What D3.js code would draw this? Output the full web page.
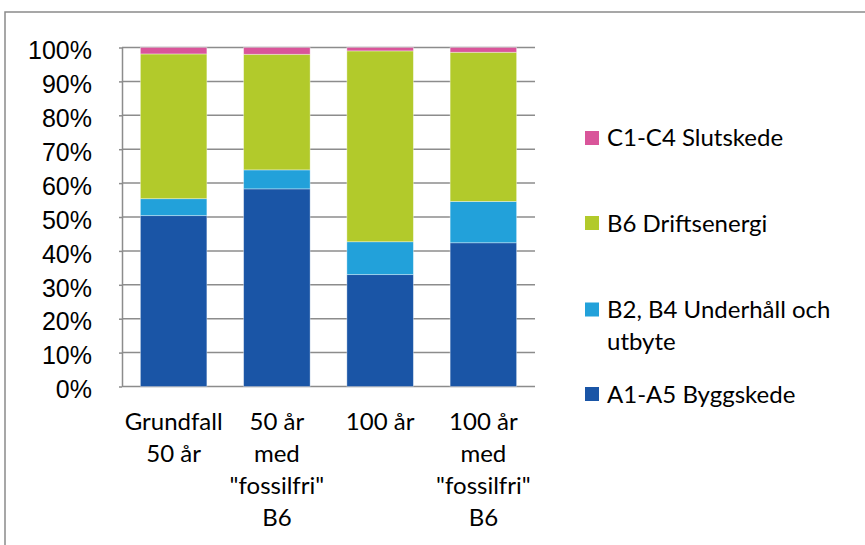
<!DOCTYPE html>
<html><head><meta charset="utf-8">
<script src="https://cdn.jsdelivr.net/npm/d3@7"></script>
<style>html,body{margin:0;padding:0;background:#fff;}svg{display:block;}</style>
</head><body>
<svg id="chart" width="865" height="545"></svg>
<script>
// Data
const categories = ["Grundfall\n50 år", "50 år\nmed\n\"fossilfri\"\nB6", "100 år", "100 år\nmed\n\"fossilfri\"\nB6"];
const seriesNames = ["A1-A5 Byggskede", "B2, B4 Underhåll och utbyte", "B6 Driftsenergi", "C1-C4 Slutskede"];
const a1a5 = [50.4, 58.3, 33.0, 42.4];
const b2b4 = [5.0, 5.6, 9.7, 12.2];
const b6 = [42.7, 34.1, 56.3, 44.0];
const c1c4 = [1.9, 2.0, 1.0, 1.4];
const yTicks = [0, 10, 20, 30, 40, 50, 60, 70, 80, 90, 100];
const colors = ["#1a55a6", "#22a1da", "#b2ca2b", "#d9559a"];

const svg = d3.select("#chart");
const mLeft = 122, mRight = 535, mTop = 47.5, mBottom = 386.5;

// outer frame
svg.append("rect").attr("x", 5).attr("y", 12).attr("width", 900).attr("height", 600)
  .attr("fill", "none").attr("stroke", "#8a8a8a").attr("stroke-width", 1.5);

const rows = categories.map((c, i) => ({
  cat: c, a: a1a5[i], b: b2b4[i], c6: b6[i], d: c1c4[i]
}));
const keys = ["a", "b", "c6", "d"];
const stacked = d3.stack().keys(keys).offset(d3.stackOffsetExpand)(rows);

const x = d3.scaleBand().domain(categories).range([mLeft, mRight]).paddingInner(0.356).paddingOuter(0.178);
const y = d3.scaleLinear().domain([0, 1]).range([mBottom, mTop]);

// gridlines
svg.append("g").selectAll("line").data(yTicks).join("line")
  .attr("x1", mLeft).attr("x2", mRight)
  .attr("y1", d => y(d / 100)).attr("y2", d => y(d / 100))
  .attr("stroke", "#8c8c8c").attr("stroke-width", 1.5);

// y axis
const yAxis = d3.axisLeft(y).tickValues(yTicks.map(d => d / 100)).tickFormat(d => Math.round(d * 100) + "%").tickSize(3).tickSizeOuter(0);
const ga = svg.append("g").attr("transform", `translate(${mLeft},0)`).call(yAxis);
ga.select(".domain").attr("stroke", "#8c8c8c").attr("stroke-width", 1.5);
ga.selectAll(".tick line").attr("stroke", "#8c8c8c").attr("stroke-width", 1.5);
ga.selectAll(".tick text").attr("font-family", "'Liberation Sans', Arial, sans-serif")
  .attr("font-size", 25).attr("fill", "#000").attr("x", -30).attr("dy", "0.45em");

// bars
svg.append("g").selectAll("g").data(stacked).join("g")
  .attr("fill", (d, i) => colors[i])
  .selectAll("rect").data(d => d).join("rect")
  .attr("x", d => x(d.data.cat))
  .attr("width", x.bandwidth())
  .attr("y", d => y(d[1]))
  .attr("height", d => y(d[0]) - y(d[1]))
  .attr("stroke", "rgba(255,255,255,0.45)").attr("stroke-width", 0.8);

// x labels
const xl = svg.append("g").attr("font-family", "Lato, 'Open Sans', sans-serif").attr("font-size", 24).attr("fill", "#000");
categories.forEach(c => {
  const t = xl.append("text").attr("text-anchor", "middle");
  c.split("\n").forEach((line, j) => {
    t.append("tspan").attr("x", x(c) + x.bandwidth() / 2).attr("y", 430 + j * 32).text(line);
  });
});

// legend
const legendItems = [
  {name: ["C1-C4 Slutskede"], color: colors[3], sq: 131, base: 146},
  {name: ["B6 Driftsenergi"], color: colors[2], sq: 216, base: 232},
  {name: ["B2, B4 Underhåll och", "utbyte"], color: colors[1], sq: 302.5, base: 318},
  {name: ["A1-A5 Byggskede"], color: colors[0], sq: 387, base: 403}
];
const lg = svg.append("g").attr("font-family", "Lato, 'Open Sans', sans-serif").attr("font-size", 24).attr("fill", "#000");
legendItems.forEach(it => {
  lg.append("rect").attr("x", 585).attr("y", it.sq).attr("width", 14).attr("height", 14).attr("fill", it.color);
  const t = lg.append("text");
  it.name.forEach((line, j) => t.append("tspan").attr("x", 607).attr("y", it.base + j * 32).text(line));
});
</script>
</body></html>
